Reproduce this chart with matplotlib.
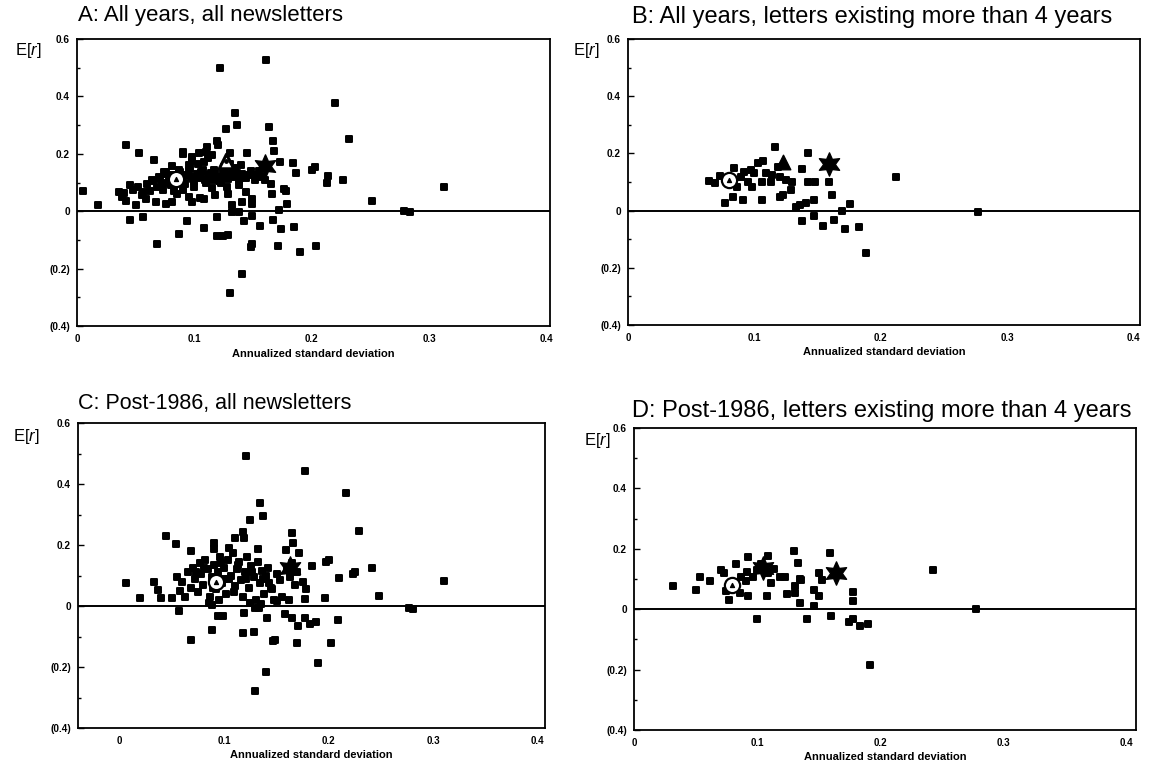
import matplotlib
matplotlib.use('Agg')
import matplotlib.pyplot as plt
from matplotlib.markers import MarkerStyle

plt.rcParams['font.family'] = ['Liberation Sans', 'DejaVu Sans']
plt.rcParams['mathtext.fontset'] = 'custom'
plt.rcParams['mathtext.rm'] = 'Liberation Sans'
plt.rcParams['mathtext.it'] = 'Liberation Sans:italic'

## Newsletter portfolios: annualized standard deviation vs mean return
# A: all years, all newsletters
a_sigma = [0.005, 0.018, 0.036, 0.042, 0.053, 0.066, 0.045, 0.056, 0.068, 0.087,
           0.094, 0.108, 0.122, 0.161, 0.135, 0.136, 0.127, 0.164, 0.167, 0.168,
           0.173, 0.184, 0.187, 0.200, 0.203, 0.214, 0.213, 0.220, 0.227, 0.232,
           0.251, 0.279, 0.284, 0.313, 0.119, 0.120, 0.111, 0.145, 0.130, 0.104,
           0.090, 0.081, 0.076, 0.064, 0.056, 0.050, 0.059, 0.067, 0.076, 0.081,
           0.098, 0.108, 0.118, 0.129, 0.132, 0.141, 0.149, 0.149, 0.144, 0.152,
           0.160, 0.165, 0.166, 0.176, 0.179, 0.172, 0.178, 0.119, 0.132, 0.142,
           0.149, 0.156, 0.167, 0.174, 0.185, 0.171, 0.190, 0.204, 0.149, 0.148,
           0.119, 0.124, 0.129, 0.141, 0.130, 0.138,
           0.065, 0.070, 0.072, 0.075, 0.078, 0.080, 0.082, 0.085, 0.088, 0.090,
           0.092, 0.095, 0.097, 0.100, 0.102, 0.105, 0.107, 0.110, 0.112, 0.115,
           0.118, 0.120, 0.123, 0.126, 0.129, 0.132, 0.135, 0.138, 0.141, 0.144,
           0.060, 0.068, 0.095, 0.098, 0.103, 0.112, 0.108, 0.125, 0.130, 0.135,
           0.140, 0.148, 0.152, 0.155, 0.158, 0.073, 0.083, 0.090, 0.100, 0.115,
           0.128, 0.138, 0.045, 0.048, 0.052, 0.040, 0.038, 0.042, 0.055, 0.062,
           0.095, 0.105, 0.085, 0.098, 0.090, 0.110, 0.115,
           0.071, 0.077, 0.086, 0.093, 0.099, 0.104, 0.109, 0.114, 0.121, 0.127,
           0.133, 0.139, 0.074, 0.087, 0.096, 0.106, 0.117, 0.124, 0.136, 0.146]
a_ret = [0.072, 0.022, 0.066, 0.231, 0.203, 0.179, -0.029, -0.021, -0.116, -0.079,
         -0.033, -0.057, 0.499, 0.527, 0.341, 0.301, 0.287, 0.293, 0.243, 0.210,
         0.173, 0.167, 0.132, 0.145, 0.153, 0.124, 0.098, 0.376, 0.109, 0.252,
         0.037, 0.000, -0.003, 0.086, 0.246, 0.232, 0.223, 0.203, 0.202, 0.202,
         0.200, 0.159, 0.136, 0.107, 0.066, 0.020, 0.043, 0.031, 0.026, 0.031,
         0.031, 0.043, 0.055, 0.060, 0.020, 0.031, 0.043, 0.026, 0.066, 0.107,
         0.107, 0.095, 0.060, 0.078, 0.026, 0.005, 0.072, -0.021, -0.003, -0.033,
         -0.015, -0.050, -0.030, -0.062, -0.056, -0.120, -0.143, -0.120, -0.114, -0.125,
         -0.087, -0.087, -0.082, -0.218, -0.285, -0.003,
         0.105, 0.120, 0.095, 0.130, 0.110, 0.090, 0.125, 0.100, 0.135, 0.115,
         0.095, 0.140, 0.120, 0.105, 0.130, 0.115, 0.145, 0.100, 0.125, 0.110,
         0.135, 0.118, 0.100, 0.128, 0.112, 0.140, 0.120, 0.105, 0.130, 0.115,
         0.095, 0.085, 0.160, 0.175, 0.165, 0.185, 0.170, 0.155, 0.165, 0.150,
         0.160, 0.140, 0.125, 0.140, 0.118, 0.075, 0.070, 0.075, 0.085, 0.080,
         0.085, 0.090, 0.090, 0.075, 0.085, 0.065, 0.050, 0.035, 0.055, 0.070,
         0.050, 0.045, 0.060, 0.190, 0.205, 0.208, 0.195,
         0.112, 0.100, 0.118, 0.125, 0.112, 0.122, 0.108, 0.132, 0.106, 0.120,
         0.126, 0.117, 0.138, 0.145, 0.150, 0.138, 0.145, 0.138, 0.132, 0.125]

# B: all years, letters existing more than 4 years
b_sigma = [0.116, 0.142, 0.107, 0.138, 0.212, 0.277, 0.064, 0.069, 0.073, 0.084,
           0.089, 0.092, 0.097, 0.100, 0.086, 0.083, 0.091, 0.077, 0.106, 0.106,
           0.109, 0.114, 0.120, 0.125, 0.130, 0.129, 0.123, 0.120, 0.142, 0.148,
           0.159, 0.161, 0.147, 0.141, 0.133, 0.136, 0.169, 0.176, 0.138, 0.147,
           0.154, 0.163, 0.172, 0.183, 0.188, 0.103, 0.119, 0.095, 0.098, 0.113]
b_ret = [0.223, 0.200, 0.173, 0.145, 0.116, -0.006, 0.103, 0.098, 0.121, 0.148,
         0.119, 0.136, 0.142, 0.130, 0.084, 0.049, 0.037, 0.026, 0.101, 0.037,
         0.130, 0.124, 0.119, 0.107, 0.101, 0.072, 0.055, 0.049, 0.101, 0.101,
         0.101, 0.055, 0.037, 0.026, 0.014, 0.020, 0.000, 0.023, -0.038, -0.019,
         -0.053, -0.033, -0.065, -0.059, -0.147, 0.165, 0.153, 0.101, 0.084, 0.101]

# C: post-1986, all newsletters
c_sigma = [0.006, 0.019, 0.033, 0.044, 0.054, 0.068, 0.037, 0.039, 0.050, 0.057,
           0.068, 0.088, 0.094, 0.099, 0.121, 0.177, 0.134, 0.137, 0.125, 0.217,
           0.229, 0.310, 0.241, 0.248, 0.277, 0.281, 0.165, 0.166, 0.172, 0.184,
           0.197, 0.200, 0.210, 0.223, 0.225, 0.196, 0.209, 0.202, 0.190, 0.119,
           0.118, 0.110, 0.159, 0.132, 0.090, 0.090, 0.105, 0.119, 0.129, 0.141,
           0.158, 0.165, 0.171, 0.177, 0.182, 0.188, 0.170, 0.147, 0.149, 0.118,
           0.128, 0.140, 0.129, 0.177, 0.162, 0.146, 0.150, 0.133, 0.088, 0.100,
           0.109,
           0.055, 0.060, 0.065, 0.068, 0.070, 0.072, 0.075, 0.077, 0.078, 0.080,
           0.082, 0.084, 0.086, 0.088, 0.090, 0.092, 0.094, 0.096, 0.098, 0.100,
           0.102, 0.104, 0.106, 0.108, 0.110, 0.112, 0.114, 0.116, 0.118, 0.120,
           0.122, 0.124, 0.126, 0.128, 0.130, 0.132, 0.134, 0.136, 0.138, 0.140,
           0.142, 0.145, 0.150, 0.153, 0.155, 0.160, 0.163, 0.165, 0.168, 0.170,
           0.175, 0.178, 0.062, 0.058, 0.085, 0.095, 0.125, 0.135, 0.148,
           0.073, 0.081, 0.089, 0.097, 0.105, 0.113, 0.121, 0.127, 0.137, 0.143]
c_ret = [0.076, 0.027, 0.078, 0.231, 0.204, 0.180, 0.052, 0.025, 0.025, -0.018,
         -0.113, -0.080, -0.032, -0.032, 0.492, 0.442, 0.337, 0.296, 0.283, 0.369,
         0.247, 0.081, 0.125, 0.033, -0.008, -0.010, 0.240, 0.208, 0.173, 0.132,
         0.143, 0.151, 0.092, 0.105, 0.111, 0.025, -0.047, -0.120, -0.187, 0.222,
         0.242, 0.223, 0.184, 0.188, 0.208, 0.186, 0.191, -0.024, -0.008, -0.038,
         -0.027, -0.038, -0.067, -0.040, -0.058, -0.051, -0.120, -0.115, -0.110, -0.090,
         -0.085, -0.217, -0.280, 0.023, 0.019, 0.057, 0.016, -0.008, 0.003, 0.089,
         0.046,
         0.095, 0.080, 0.110, 0.060, 0.125, 0.090, 0.045, 0.140, 0.105, 0.070,
         0.150, 0.120, 0.030, 0.095, 0.135, 0.055, 0.110, 0.160, 0.075, 0.125,
         0.040, 0.150, 0.100, 0.175, 0.065, 0.120, 0.145, 0.085, 0.030, 0.110,
         0.160, 0.060, 0.130, 0.095, 0.020, 0.145, 0.075, 0.115, 0.040, 0.100,
         0.125, 0.060, 0.105, 0.085, 0.030, 0.120, 0.095, 0.140, 0.070, 0.110,
         0.080, 0.055, 0.030, 0.050, 0.010, 0.020, 0.010, 0.005, 0.020,
         0.110, 0.125, 0.060, 0.140, 0.090, 0.135, 0.090, 0.110, 0.090, 0.075]

# D: post-1986, letters existing more than 4 years
d_sigma = [0.032, 0.050, 0.054, 0.062, 0.071, 0.073, 0.075, 0.077, 0.083, 0.087,
           0.093, 0.093, 0.092, 0.097, 0.100, 0.103, 0.109, 0.111, 0.114, 0.108,
           0.123, 0.124, 0.130, 0.133, 0.135, 0.136, 0.131, 0.131, 0.135, 0.141,
           0.146, 0.146, 0.150, 0.150, 0.153, 0.159, 0.160, 0.178, 0.178, 0.175,
           0.178, 0.184, 0.190, 0.192, 0.243, 0.278, 0.119, 0.109, 0.100, 0.091,
           0.086]
d_ret = [0.078, 0.063, 0.106, 0.092, 0.130, 0.119, 0.059, 0.030, 0.151, 0.108,
         0.173, 0.043, 0.124, 0.108, -0.032, 0.151, 0.175, 0.086, 0.132, 0.045,
         0.108, 0.049, 0.192, 0.154, 0.101, 0.097, 0.076, 0.054, 0.022, -0.032,
         0.062, 0.011, 0.043, 0.119, 0.097, 0.186, -0.022, 0.056, 0.027, -0.043,
         -0.032, -0.054, -0.049, -0.184, 0.130, 0.000, 0.108, 0.119, 0.130, 0.092,
         0.054]

## Benchmark markers (sigma, return)
circle_pts = [(0.084, 0.112), (0.080, 0.107), (0.092, 0.080), (0.080, 0.081)]
triangle_pts = [(0.127, 0.174), (0.123, 0.171), None, None]
triangle_open = [True, False, False, False]
star_pts = [[(0.160, 0.159)], [(0.159, 0.163)], [(0.163, 0.125)],
            [(0.105, 0.135), (0.164, 0.121)]]

titles = ["A: All years, all newsletters",
          "B: All years, letters existing more than 4 years",
          "C: Post-1986, all newsletters",
          "D: Post-1986, letters existing more than 4 years"]

y_ticks = [0.6, 0.4, 0.2, 0, -0.2, -0.4]
y_ticklabels = ["0.6", "0.4", "0.2", "0", "(0.2)", "(0.4)"]
x_ticks = [0, 0.1, 0.2, 0.3, 0.4]
x_ticklabels = ["0", "0.1", "0.2", "0.3", "0.4"]

W, H = 1149, 768

# axes boxes in pixels: left, top, right, bottom
boxes = [(77, 39, 550, 326), (628, 39, 1140, 325),
         (78, 423, 545, 728), (634, 428, 1136, 730)]
x_limits = [(0, 0.403), (0, 0.405), (-0.04, 0.407), (0, 0.408)]
title_pos = [(78, 16), (632, 17), (78, 404), (632, 411)]
title_size = [16, 17, 15.5, 17]
er_pos = [(28, 51), (586, 51), (26, 436), (597, 441)]

square = MarkerStyle('s', joinstyle='round')
star = MarkerStyle((6, 1, 0), joinstyle='round')


def make_axes(fig, box):
    l, t, r, b = box
    return fig.add_axes([l / W, 1 - b / H, (r - l) / W, (b - t) / H])


def draw_panel(ax, sigma, ret, i):
    ax.scatter(sigma, ret, marker=square, s=24, facecolors='black',
               edgecolors='black', linewidths=1.4, zorder=3)
    ax.axhline(0, color='black', lw=1.4, zorder=2)

    cx, cy = circle_pts[i]
    ax.scatter([cx], [cy], marker='o', s=120, facecolors='white',
               edgecolors='black', linewidths=1.6, zorder=5)
    ax.scatter([cx], [cy], marker='^', s=8, color='black', zorder=6)

    if triangle_pts[i] is not None:
        tx, ty = triangle_pts[i]
        if triangle_open[i]:
            ax.scatter([tx], [ty], marker='^', s=110, facecolors='white',
                       edgecolors='black', linewidths=2.2, zorder=5)
            ax.scatter([tx], [ty], marker='o', s=6, color='black', zorder=6)
        else:
            ax.scatter([tx], [ty], marker='^', s=110, color='black', zorder=5)

    for sx, sy in star_pts[i]:
        ax.scatter([sx], [sy], marker=star, s=280, color='black', zorder=5)

    ax.set_xlim(*x_limits[i])
    ax.set_ylim(-0.4, 0.6)
    ax.set_yticks(y_ticks)
    ax.set_yticklabels(y_ticklabels)
    ax.set_yticks([0.5, 0.3, 0.1, -0.1, -0.3], minor=True)
    ax.set_xticks(x_ticks)
    ax.set_xticklabels(x_ticklabels)
    ax.tick_params(axis='y', which='major', direction='in', length=4, width=1,
                   pad=5, labelsize=7.2)
    ax.tick_params(axis='y', which='minor', direction='in', length=2, width=1)
    ax.tick_params(axis='x', length=0, pad=6, labelsize=7)
    for lab in ax.get_xticklabels() + ax.get_yticklabels():
        lab.set_fontweight('bold')
    for sp in ax.spines.values():
        sp.set_linewidth(1.3)
    ax.set_xlabel("Annualized standard deviation", fontsize=8,
                  fontweight='bold', labelpad=3)


fig = plt.figure(figsize=(W / 100, H / 100), dpi=100)

panel_data = [(a_sigma, a_ret), (b_sigma, b_ret), (c_sigma, c_ret), (d_sigma, d_ret)]
for i, (sigma, ret) in enumerate(panel_data):
    ax = make_axes(fig, boxes[i])
    draw_panel(ax, sigma, ret, i)
    tx, ty = title_pos[i]
    fig.text(tx / W, 1 - ty / H, titles[i], fontsize=title_size[i],
             ha='left', va='center')
    ex, ey = er_pos[i]
    fig.text(ex / W, 1 - ey / H, "E[$r$]", fontsize=12, ha='center', va='center')

fig.savefig("out.png", dpi=100)
